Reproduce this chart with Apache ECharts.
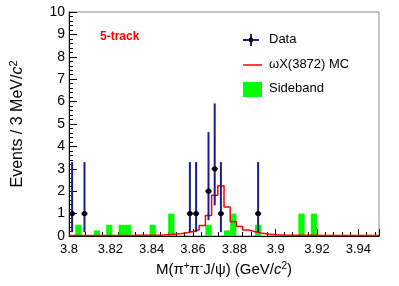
<!DOCTYPE html>
<html>
<head>
<meta charset="utf-8">
<script src="https://cdn.jsdelivr.net/npm/echarts@6/dist/echarts.min.js"></script>
<style>
html,body{margin:0;padding:0;background:#fff;}
#c{width:399px;height:286px;}
</style>
</head>
<body>
<div id="c"></div>
<script>
// ---- data ----
var xMin = 3.80, xMax = 3.95, binWidth = 0.003;
var xTicks = [3.80, 3.82, 3.84, 3.86, 3.88, 3.90, 3.92, 3.94];
var yTicks = [0,1,2,3,4,5,6,7,8,9,10];

// Data points (bin centres), counts and asymmetric Poisson intervals
var dataX  = [3.8015, 3.8075, 3.8585, 3.8615, 3.8675, 3.8705, 3.8735, 3.8915];
var dataY  = [1, 1, 1, 1, 2, 3, 1, 1];
var dataLo = [0.17, 0.17, 0.17, 0.17, 0.71, 1.37, 0.17, 0.17];
var dataHi = [3.30, 3.30, 3.30, 3.30, 4.64, 5.92, 3.30, 3.30];

// omegaX(3872) MC histogram, 50 bins of 3 MeV from 3.80
var mcValues = [
  0.02,0.02,0.02,0.02,0.02,0.02,0.02,0.02,0.02,0.02,
  0.03,0.03,0.03,0.03,0.04,0.06,0.08,0.10,0.15,0.20,
  0.28,0.47,0.91,1.82,2.24,1.30,0.64,0.42,0.27,0.19,
  0.13,0.09,0.07,0.05,0.04,0.035,0.03,0.03,0.03,0.03,
  0.02,0.02,0.02,0.02,0.02,0.02,0.02,0.02,0.02,0.02
];

// Sideband: bin low edges and contents
var sidebandLow = [3.803, 3.812, 3.818, 3.824, 3.827, 3.839, 3.848, 3.866, 3.875, 3.878, 3.890, 3.911, 3.917];
var sidebandVal = [0.5, 0.25, 0.5, 0.5, 0.5, 0.5, 1, 0.5, 0.25, 1, 0.5, 1, 1];

// ---- build series data ----
var mcLine = [];
for (var i = 0; i < mcValues.length; i++) {
  mcLine.push([xMin + i * binWidth, mcValues[i]]);
}
mcLine.push([xMax, mcValues[mcValues.length - 1]]);

var sbData = sidebandLow.map(function (x, i) { return [x, sidebandVal[i]]; });
var ptData = dataX.map(function (x, i) { return [x, dataY[i], dataLo[i], dataHi[i]]; });

var FONT = 'Liberation Sans, Arial, Helvetica, sans-serif';
var NAVY = '#1c1c8f';

var chart = echarts.init(document.getElementById('c'), null, {renderer: 'canvas'});
var option = {
  animation: false,
  backgroundColor: '#ffffff',
  textStyle: {fontFamily: FONT},
  grid: {left: 67, right: 20, top: 12, bottom: 50, show: true, borderColor: '#8c8c8c', borderWidth: 1, backgroundColor: 'transparent'},
  xAxis: {
    type: 'value', min: xMin, max: xMax, interval: 0.02,
    axisLine: {show: true, onZero: false, lineStyle: {color: '#000', width: 1}},
    axisTick: {show: true, inside: true, length: 7, lineStyle: {color: '#000'}},
    minorTick: {show: true, splitNumber: 5, length: 4, lineStyle: {color: '#000'}},
    splitLine: {show: false},
    axisLabel: {
      color: '#000', fontSize: 13, fontFamily: FONT, margin: 7, showMaxLabel: false,
      formatter: function (v) {
        var t = xTicks.filter(function (k) { return Math.abs(k - v) < 1e-6; });
        return t.length ? String(parseFloat(t[0].toFixed(2))) : '';
      }
    },
    name: 'M(π{sup|+}π{sup|-}J/ψ) (GeV/{i|c}{sup|2})',
    nameLocation: 'middle', nameGap: 22,
    nameTextStyle: {
      color: '#000', fontSize: 15, fontFamily: FONT,
      rich: {
        sup: {fontSize: 10, fontFamily: FONT, color: '#000', padding: [0, 0, 8, 0]},
        i: {fontSize: 15, fontStyle: 'italic', fontFamily: FONT, color: '#000'}
      }
    }
  },
  yAxis: {
    type: 'value', min: 0, max: 10, interval: 1,
    axisLine: {show: true, lineStyle: {color: '#000', width: 1}},
    axisTick: {show: true, inside: true, length: 8, lineStyle: {color: '#000'}},
    minorTick: {show: true, splitNumber: 5, length: 4, lineStyle: {color: '#000'}},
    splitLine: {show: false},
    axisLabel: {
      color: '#000', fontSize: 14, fontFamily: FONT, margin: 4,
      formatter: function (v) { return yTicks.indexOf(v) >= 0 ? String(v) : ''; }
    },
    name: 'Events / 3 MeV/{i|c}{sup|2}',
    nameLocation: 'middle', nameGap: 41,
    nameTextStyle: {
      color: '#000', fontSize: 16, fontFamily: FONT,
      rich: {
        sup: {fontSize: 11, fontFamily: FONT, color: '#000', padding: [0, 0, 9, 0]},
        i: {fontSize: 16, fontStyle: 'italic', fontFamily: FONT, color: '#000'}
      }
    }
  },
  series: [
    {
      name: 'Sideband', type: 'custom', z: 2, clip: true,
      data: sbData,
      encode: {x: 0, y: 1},
      renderItem: function (params, api) {
        var x0 = api.value(0), v = api.value(1);
        var p0 = api.coord([x0, 0]);
        var p1 = api.coord([x0 + binWidth, v]);
        return {
          type: 'rect',
          shape: {x: p0[0], y: p1[1], width: p1[0] - p0[0], height: p0[1] - p1[1]},
          style: {fill: '#00ff00'}
        };
      }
    },
    {
      name: 'MC', type: 'line', step: 'end', z: 3, symbol: 'none',
      data: mcLine,
      lineStyle: {color: '#ff0000', width: 1.5}
    },
    {
      name: 'Data', type: 'custom', z: 4,
      data: ptData,
      encode: {x: 0, y: 1},
      renderItem: function (params, api) {
        var x = api.value(0), y = api.value(1), lo = api.value(2), hi = api.value(3);
        var c = api.coord([x, y]);
        var pLo = api.coord([x, lo]);
        var pHi = api.coord([x, hi]);
        var pL = api.coord([x - binWidth / 2, y]);
        var pR = api.coord([x + binWidth / 2, y]);
        return {
          type: 'group',
          children: [
            {type: 'line', shape: {x1: c[0], y1: pLo[1], x2: c[0], y2: pHi[1]}, style: {stroke: NAVY, lineWidth: 2}},
            {type: 'line', shape: {x1: pL[0], y1: c[1], x2: pR[0], y2: c[1]}, style: {stroke: NAVY, lineWidth: 2}},
            {type: 'circle', shape: {cx: c[0], cy: c[1], r: 2.6}, style: {fill: '#000'}}
          ]
        };
      }
    }
  ],
  graphic: [
    {type: 'text', left: 100, top: 31, style: {text: '5-track', fill: '#ff0000', font: 'bold 12px ' + FONT}},
    // legend: Data
    {type: 'line', shape: {x1: 243, y1: 40, x2: 259, y2: 40}, style: {stroke: NAVY, lineWidth: 2}},
    {type: 'line', shape: {x1: 251, y1: 34, x2: 251, y2: 46}, style: {stroke: NAVY, lineWidth: 2}},
    {type: 'circle', shape: {cx: 251, cy: 40, r: 2.4}, style: {fill: '#000'}},
    {type: 'text', left: 269, top: 33, style: {text: 'Data', fill: '#000', font: '13px ' + FONT}},
    // legend: MC
    {type: 'line', shape: {x1: 243, y1: 65, x2: 262, y2: 65}, style: {stroke: '#ff0000', lineWidth: 1.5}},
    {type: 'text', left: 269, top: 58, style: {text: 'ωX(3872) MC', fill: '#000', font: '13px ' + FONT}},
    // legend: Sideband
    {type: 'rect', shape: {x: 243, y: 82, width: 19, height: 15}, style: {fill: '#00ff00'}},
    {type: 'text', left: 269, top: 82, style: {text: 'Sideband', fill: '#000', font: '13px ' + FONT}}
  ]
};
chart.setOption(option);
</script>
</body>
</html>
